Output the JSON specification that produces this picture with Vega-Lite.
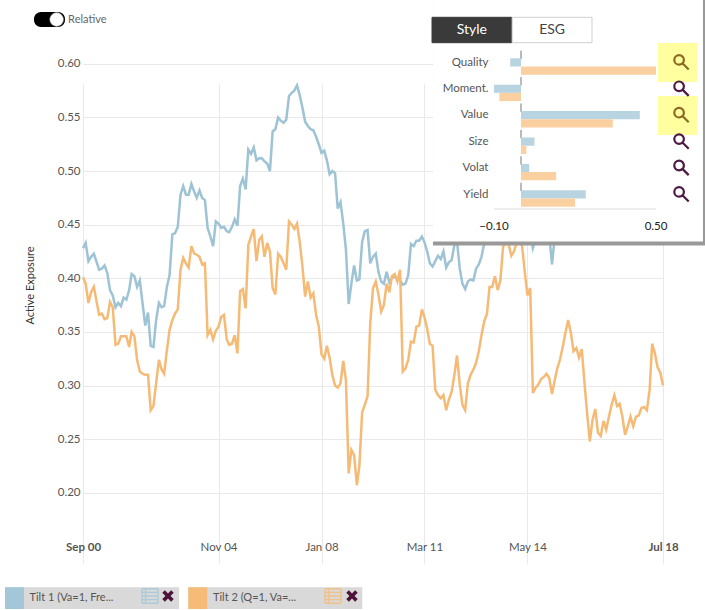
{"$schema":"https://vega.github.io/schema/vega-lite/v6.json","width":705,"height":610,"padding":0,"autosize":{"type":"none"},"background":"#ffffff","config":{"view":{"stroke":null},"font":"Lato","text":{"font":"Lato"}},
"datasets":{
"months":[
{"date":"2000-09-01","Tilt 1":0.428,"Tilt 2":0.401},{"date":"2000-10-01","Tilt 1":0.433,"Tilt 2":0.395},{"date":"2000-11-01","Tilt 1":0.416,"Tilt 2":0.377},{"date":"2000-12-01","Tilt 1":0.42,"Tilt 2":0.387},
{"date":"2001-01-01","Tilt 1":0.423,"Tilt 2":0.392},{"date":"2001-02-01","Tilt 1":0.415,"Tilt 2":0.378},{"date":"2001-03-01","Tilt 1":0.408,"Tilt 2":0.366},{"date":"2001-04-01","Tilt 1":0.409,"Tilt 2":0.367},{"date":"2001-05-01","Tilt 1":0.412,"Tilt 2":0.362},{"date":"2001-06-01","Tilt 1":0.405,"Tilt 2":0.363},{"date":"2001-07-01","Tilt 1":0.389,"Tilt 2":0.378},{"date":"2001-08-01","Tilt 1":0.384,"Tilt 2":0.373},{"date":"2001-09-01","Tilt 1":0.373,"Tilt 2":0.338},{"date":"2001-10-01","Tilt 1":0.377,"Tilt 2":0.339},{"date":"2001-11-01","Tilt 1":0.374,"Tilt 2":0.346},{"date":"2001-12-01","Tilt 1":0.382,"Tilt 2":0.346},
{"date":"2002-01-01","Tilt 1":0.38,"Tilt 2":0.346},{"date":"2002-02-01","Tilt 1":0.389,"Tilt 2":0.336},{"date":"2002-03-01","Tilt 1":0.404,"Tilt 2":0.35},{"date":"2002-04-01","Tilt 1":0.402,"Tilt 2":0.346},{"date":"2002-05-01","Tilt 1":0.392,"Tilt 2":0.324},{"date":"2002-06-01","Tilt 1":0.398,"Tilt 2":0.313},{"date":"2002-07-01","Tilt 1":0.377,"Tilt 2":0.311},{"date":"2002-08-01","Tilt 1":0.356,"Tilt 2":0.31},{"date":"2002-09-01","Tilt 1":0.368,"Tilt 2":0.31},{"date":"2002-10-01","Tilt 1":0.337,"Tilt 2":0.277},{"date":"2002-11-01","Tilt 1":0.336,"Tilt 2":0.281},{"date":"2002-12-01","Tilt 1":0.361,"Tilt 2":0.302},
{"date":"2003-01-01","Tilt 1":0.377,"Tilt 2":0.324},{"date":"2003-02-01","Tilt 1":0.373,"Tilt 2":0.315},{"date":"2003-03-01","Tilt 1":0.374,"Tilt 2":0.311},{"date":"2003-04-01","Tilt 1":0.392,"Tilt 2":0.333},{"date":"2003-05-01","Tilt 1":0.403,"Tilt 2":0.352},{"date":"2003-06-01","Tilt 1":0.441,"Tilt 2":0.361},{"date":"2003-07-01","Tilt 1":0.442,"Tilt 2":0.367},{"date":"2003-08-01","Tilt 1":0.448,"Tilt 2":0.371},{"date":"2003-09-01","Tilt 1":0.478,"Tilt 2":0.408},{"date":"2003-10-01","Tilt 1":0.486,"Tilt 2":0.419},{"date":"2003-11-01","Tilt 1":0.478,"Tilt 2":0.414},{"date":"2003-12-01","Tilt 1":0.478,"Tilt 2":0.41},
{"date":"2004-01-01","Tilt 1":0.488,"Tilt 2":0.43},{"date":"2004-02-01","Tilt 1":0.481,"Tilt 2":0.423},{"date":"2004-03-01","Tilt 1":0.475,"Tilt 2":0.422},{"date":"2004-04-01","Tilt 1":0.482,"Tilt 2":0.42},{"date":"2004-05-01","Tilt 1":0.475,"Tilt 2":0.413},{"date":"2004-06-01","Tilt 1":0.473,"Tilt 2":0.414},{"date":"2004-07-01","Tilt 1":0.447,"Tilt 2":0.347},{"date":"2004-08-01","Tilt 1":0.439,"Tilt 2":0.352},{"date":"2004-09-01","Tilt 1":0.43,"Tilt 2":0.343},{"date":"2004-10-01","Tilt 1":0.453,"Tilt 2":0.351},{"date":"2004-11-01","Tilt 1":0.451,"Tilt 2":0.355},{"date":"2004-12-01","Tilt 1":0.447,"Tilt 2":0.364},
{"date":"2005-01-01","Tilt 1":0.448,"Tilt 2":0.366},{"date":"2005-02-01","Tilt 1":0.444,"Tilt 2":0.343},{"date":"2005-03-01","Tilt 1":0.443,"Tilt 2":0.338},{"date":"2005-04-01","Tilt 1":0.448,"Tilt 2":0.339},{"date":"2005-05-01","Tilt 1":0.455,"Tilt 2":0.347},{"date":"2005-06-01","Tilt 1":0.449,"Tilt 2":0.33},{"date":"2005-07-01","Tilt 1":0.486,"Tilt 2":0.388},{"date":"2005-08-01","Tilt 1":0.493,"Tilt 2":0.39},{"date":"2005-09-01","Tilt 1":0.483,"Tilt 2":0.372},{"date":"2005-10-01","Tilt 1":0.52,"Tilt 2":0.431},{"date":"2005-11-01","Tilt 1":0.516,"Tilt 2":0.439},{"date":"2005-12-01","Tilt 1":0.522,"Tilt 2":0.446},
{"date":"2006-01-01","Tilt 1":0.51,"Tilt 2":0.416},{"date":"2006-02-01","Tilt 1":0.512,"Tilt 2":0.436},{"date":"2006-03-01","Tilt 1":0.512,"Tilt 2":0.439},{"date":"2006-04-01","Tilt 1":0.509,"Tilt 2":0.42},{"date":"2006-05-01","Tilt 1":0.507,"Tilt 2":0.433},{"date":"2006-06-01","Tilt 1":0.5,"Tilt 2":0.425},{"date":"2006-07-01","Tilt 1":0.537,"Tilt 2":0.391},{"date":"2006-08-01","Tilt 1":0.539,"Tilt 2":0.385},{"date":"2006-09-01","Tilt 1":0.55,"Tilt 2":0.423},{"date":"2006-10-01","Tilt 1":0.547,"Tilt 2":0.42},{"date":"2006-11-01","Tilt 1":0.545,"Tilt 2":0.414},{"date":"2006-12-01","Tilt 1":0.548,"Tilt 2":0.408},
{"date":"2007-01-01","Tilt 1":0.57,"Tilt 2":0.453},{"date":"2007-02-01","Tilt 1":0.573,"Tilt 2":0.45},{"date":"2007-03-01","Tilt 1":0.575,"Tilt 2":0.446},{"date":"2007-04-01","Tilt 1":0.58,"Tilt 2":0.451},{"date":"2007-05-01","Tilt 1":0.571,"Tilt 2":0.434},{"date":"2007-06-01","Tilt 1":0.559,"Tilt 2":0.411},{"date":"2007-07-01","Tilt 1":0.546,"Tilt 2":0.383},{"date":"2007-08-01","Tilt 1":0.542,"Tilt 2":0.397},{"date":"2007-09-01","Tilt 1":0.539,"Tilt 2":0.382},{"date":"2007-10-01","Tilt 1":0.538,"Tilt 2":0.386},{"date":"2007-11-01","Tilt 1":0.532,"Tilt 2":0.366},{"date":"2007-12-01","Tilt 1":0.525,"Tilt 2":0.355},
{"date":"2008-01-01","Tilt 1":0.517,"Tilt 2":0.329},{"date":"2008-02-01","Tilt 1":0.519,"Tilt 2":0.325},{"date":"2008-03-01","Tilt 1":0.51,"Tilt 2":0.337},{"date":"2008-04-01","Tilt 1":0.497,"Tilt 2":0.326},{"date":"2008-05-01","Tilt 1":0.5,"Tilt 2":0.31},{"date":"2008-06-01","Tilt 1":0.498,"Tilt 2":0.3},{"date":"2008-07-01","Tilt 1":0.465,"Tilt 2":0.298},{"date":"2008-08-01","Tilt 1":0.471,"Tilt 2":0.302},{"date":"2008-09-01","Tilt 1":0.451,"Tilt 2":0.323},{"date":"2008-10-01","Tilt 1":0.427,"Tilt 2":0.305},{"date":"2008-11-01","Tilt 1":0.376,"Tilt 2":0.218},{"date":"2008-12-01","Tilt 1":0.395,"Tilt 2":0.24},
{"date":"2009-01-01","Tilt 1":0.412,"Tilt 2":0.235},{"date":"2009-02-01","Tilt 1":0.398,"Tilt 2":0.207},{"date":"2009-03-01","Tilt 1":0.399,"Tilt 2":0.225},{"date":"2009-04-01","Tilt 1":0.434,"Tilt 2":0.275},{"date":"2009-05-01","Tilt 1":0.444,"Tilt 2":0.282},{"date":"2009-06-01","Tilt 1":0.445,"Tilt 2":0.29},{"date":"2009-07-01","Tilt 1":0.414,"Tilt 2":0.358},{"date":"2009-08-01","Tilt 1":0.42,"Tilt 2":0.391},{"date":"2009-09-01","Tilt 1":0.423,"Tilt 2":0.397},{"date":"2009-10-01","Tilt 1":0.406,"Tilt 2":0.385},{"date":"2009-11-01","Tilt 1":0.397,"Tilt 2":0.369},{"date":"2009-12-01","Tilt 1":0.395,"Tilt 2":0.375},
{"date":"2010-01-01","Tilt 1":0.406,"Tilt 2":0.395},{"date":"2010-02-01","Tilt 1":0.396,"Tilt 2":0.387},{"date":"2010-03-01","Tilt 1":0.4,"Tilt 2":0.402},{"date":"2010-04-01","Tilt 1":0.402,"Tilt 2":0.404},{"date":"2010-05-01","Tilt 1":0.4,"Tilt 2":0.397},{"date":"2010-06-01","Tilt 1":0.398,"Tilt 2":0.408},{"date":"2010-07-01","Tilt 1":0.394,"Tilt 2":0.313},{"date":"2010-08-01","Tilt 1":0.395,"Tilt 2":0.316},{"date":"2010-09-01","Tilt 1":0.403,"Tilt 2":0.324},{"date":"2010-10-01","Tilt 1":0.432,"Tilt 2":0.341},{"date":"2010-11-01","Tilt 1":0.43,"Tilt 2":0.34},{"date":"2010-12-01","Tilt 1":0.435,"Tilt 2":0.355},
{"date":"2011-01-01","Tilt 1":0.435,"Tilt 2":0.356},{"date":"2011-02-01","Tilt 1":0.439,"Tilt 2":0.371},{"date":"2011-03-01","Tilt 1":0.434,"Tilt 2":0.364},{"date":"2011-04-01","Tilt 1":0.425,"Tilt 2":0.353},{"date":"2011-05-01","Tilt 1":0.414,"Tilt 2":0.339},{"date":"2011-06-01","Tilt 1":0.411,"Tilt 2":0.337},{"date":"2011-07-01","Tilt 1":0.416,"Tilt 2":0.296},{"date":"2011-08-01","Tilt 1":0.421,"Tilt 2":0.291},{"date":"2011-09-01","Tilt 1":0.418,"Tilt 2":0.288},{"date":"2011-10-01","Tilt 1":0.425,"Tilt 2":0.291},{"date":"2011-11-01","Tilt 1":0.41,"Tilt 2":0.277},{"date":"2011-12-01","Tilt 1":0.415,"Tilt 2":0.287},
{"date":"2012-01-01","Tilt 1":0.417,"Tilt 2":0.294},{"date":"2012-02-01","Tilt 1":0.431,"Tilt 2":0.31},{"date":"2012-03-01","Tilt 1":0.435,"Tilt 2":0.328},{"date":"2012-04-01","Tilt 1":0.409,"Tilt 2":0.301},{"date":"2012-05-01","Tilt 1":0.395,"Tilt 2":0.282},{"date":"2012-06-01","Tilt 1":0.39,"Tilt 2":0.277},{"date":"2012-07-01","Tilt 1":0.397,"Tilt 2":0.302},{"date":"2012-08-01","Tilt 1":0.399,"Tilt 2":0.31},{"date":"2012-09-01","Tilt 1":0.398,"Tilt 2":0.315},{"date":"2012-10-01","Tilt 1":0.409,"Tilt 2":0.321},{"date":"2012-11-01","Tilt 1":0.413,"Tilt 2":0.332},{"date":"2012-12-01","Tilt 1":0.42,"Tilt 2":0.347},
{"date":"2013-01-01","Tilt 1":0.433,"Tilt 2":0.36},{"date":"2013-02-01","Tilt 1":0.44,"Tilt 2":0.367},{"date":"2013-03-01","Tilt 1":0.452,"Tilt 2":0.392},{"date":"2013-04-01","Tilt 1":0.46,"Tilt 2":0.392},{"date":"2013-05-01","Tilt 1":0.465,"Tilt 2":0.402},{"date":"2013-06-01","Tilt 1":0.47,"Tilt 2":0.389},{"date":"2013-07-01","Tilt 1":0.468,"Tilt 2":0.398},{"date":"2013-08-01","Tilt 1":0.47,"Tilt 2":0.43},{"date":"2013-09-01","Tilt 1":0.462,"Tilt 2":0.433},{"date":"2013-10-01","Tilt 1":0.458,"Tilt 2":0.432},{"date":"2013-11-01","Tilt 1":0.456,"Tilt 2":0.421},{"date":"2013-12-01","Tilt 1":0.455,"Tilt 2":0.425},
{"date":"2014-01-01","Tilt 1":0.455,"Tilt 2":0.434},{"date":"2014-02-01","Tilt 1":0.452,"Tilt 2":0.432},{"date":"2014-03-01","Tilt 1":0.45,"Tilt 2":0.431},{"date":"2014-04-01","Tilt 1":0.448,"Tilt 2":0.406},{"date":"2014-05-01","Tilt 1":0.445,"Tilt 2":0.384},{"date":"2014-06-01","Tilt 1":0.44,"Tilt 2":0.391},{"date":"2014-07-01","Tilt 1":0.428,"Tilt 2":0.293},{"date":"2014-08-01","Tilt 1":0.436,"Tilt 2":0.298},{"date":"2014-09-01","Tilt 1":0.44,"Tilt 2":0.301},{"date":"2014-10-01","Tilt 1":0.437,"Tilt 2":0.306},{"date":"2014-11-01","Tilt 1":0.438,"Tilt 2":0.308},{"date":"2014-12-01","Tilt 1":0.438,"Tilt 2":0.311},
{"date":"2015-01-01","Tilt 1":0.44,"Tilt 2":0.307},{"date":"2015-02-01","Tilt 1":0.413,"Tilt 2":0.292},{"date":"2015-03-01","Tilt 1":0.437,"Tilt 2":0.304},{"date":"2015-04-01","Tilt 1":0.45,"Tilt 2":0.316},{"date":"2015-05-01","Tilt 1":0.455,"Tilt 2":0.324},{"date":"2015-06-01","Tilt 1":0.46,"Tilt 2":0.336},{"date":"2015-07-01","Tilt 1":0.46,"Tilt 2":0.349},{"date":"2015-08-01","Tilt 1":0.47,"Tilt 2":0.361},{"date":"2015-09-01","Tilt 1":0.47,"Tilt 2":0.349},{"date":"2015-10-01","Tilt 1":0.465,"Tilt 2":0.332},{"date":"2015-11-01","Tilt 1":0.46,"Tilt 2":0.335},{"date":"2015-12-01","Tilt 1":0.46,"Tilt 2":0.326},
{"date":"2016-01-01","Tilt 1":0.45,"Tilt 2":0.334},{"date":"2016-02-01","Tilt 1":0.45,"Tilt 2":0.302},{"date":"2016-03-01","Tilt 1":0.45,"Tilt 2":0.274},{"date":"2016-04-01","Tilt 1":0.44,"Tilt 2":0.248},{"date":"2016-05-01","Tilt 1":0.45,"Tilt 2":0.268},{"date":"2016-06-01","Tilt 1":0.45,"Tilt 2":0.278},{"date":"2016-07-01","Tilt 1":0.44,"Tilt 2":0.256},{"date":"2016-08-01","Tilt 1":0.44,"Tilt 2":0.253},{"date":"2016-09-01","Tilt 1":0.45,"Tilt 2":0.267},{"date":"2016-10-01","Tilt 1":0.45,"Tilt 2":0.259},{"date":"2016-11-01","Tilt 1":0.45,"Tilt 2":0.271},{"date":"2016-12-01","Tilt 1":0.46,"Tilt 2":0.282},
{"date":"2017-01-01","Tilt 1":0.46,"Tilt 2":0.291},{"date":"2017-02-01","Tilt 1":0.46,"Tilt 2":0.281},{"date":"2017-03-01","Tilt 1":0.46,"Tilt 2":0.283},{"date":"2017-04-01","Tilt 1":0.46,"Tilt 2":0.271},{"date":"2017-05-01","Tilt 1":0.45,"Tilt 2":0.254},{"date":"2017-06-01","Tilt 1":0.45,"Tilt 2":0.262},{"date":"2017-07-01","Tilt 1":0.45,"Tilt 2":0.271},{"date":"2017-08-01","Tilt 1":0.45,"Tilt 2":0.262},{"date":"2017-09-01","Tilt 1":0.46,"Tilt 2":0.271},{"date":"2017-10-01","Tilt 1":0.46,"Tilt 2":0.272},{"date":"2017-11-01","Tilt 1":0.46,"Tilt 2":0.279},{"date":"2017-12-01","Tilt 1":0.46,"Tilt 2":0.28},
{"date":"2018-01-01","Tilt 1":0.46,"Tilt 2":0.277},{"date":"2018-02-01","Tilt 1":0.47,"Tilt 2":0.296},{"date":"2018-03-01","Tilt 1":0.48,"Tilt 2":0.339},{"date":"2018-04-01","Tilt 1":0.48,"Tilt 2":0.33},{"date":"2018-05-01","Tilt 1":0.47,"Tilt 2":0.317},{"date":"2018-06-01","Tilt 1":0.47,"Tilt 2":0.312},{"date":"2018-07-01","Tilt 1":0.47,"Tilt 2":0.3}
],
"exposures":[{"factor":"Quality","series":"Tilt 1","value":-0.04},{"factor":"Quality","series":"Tilt 2","value":0.5},{"factor":"Moment.","series":"Tilt 1","value":-0.1},{"factor":"Moment.","series":"Tilt 2","value":-0.08},{"factor":"Value","series":"Tilt 1","value":0.44},{"factor":"Value","series":"Tilt 2","value":0.34},{"factor":"Size","series":"Tilt 1","value":0.05},{"factor":"Size","series":"Tilt 2","value":0.02},{"factor":"Volat","series":"Tilt 1","value":0.03},{"factor":"Volat","series":"Tilt 2","value":0.13},{"factor":"Yield","series":"Tilt 1","value":0.24},{"factor":"Yield","series":"Tilt 2","value":0.2}],
"factors":[{"factor":"Quality"},{"factor":"Moment."},{"factor":"Value"},{"factor":"Size"},{"factor":"Volat"},{"factor":"Yield"}],
"highlighted":[{"factor":"Quality"},{"factor":"Value"}],
"panelTicks":[{"tick":-0.1,"factor":"axis"},{"tick":0.5,"factor":"axis"}],
"tabs":[{"tab":"Style"},{"tab":"ESG"}],
"legend":[{"series":"Tilt 1","label":"Tilt 1 (Va=1, Fre..."},{"series":"Tilt 2","label":"Tilt 2 (Q=1, Va=..."}],
"one":[{"label":"Relative"}]
},
"resolve":{"scale":{"x":"independent","y":"independent","color":"independent","yOffset":"independent"},"axis":{"x":"independent","y":"independent"}},
"layer":[
{"data":{"name":"months"},"transform":[{"fold":["Tilt 1","Tilt 2"],"as":["series","value"]}],
"mark":{"type":"line","strokeWidth":2.5,"interpolate":"linear"},
"encoding":{
"x":{"field":"date","type":"temporal","scale":{"type":"utc","domain":["2000-09-01","2018-07-01"],"range":[83,663]},"axis":{"title":null,"orient":"bottom","offset":-84,"domain":false,"ticks":false,"grid":true,"gridColor":"#e9e9e9","gridWidth":1,"values":["2000-09-01","2004-11-01","2008-01-01","2011-03-01","2014-05-01","2018-07-01"],"labelExpr":"utcFormat(datum.value,'%b %y')","labelPadding":15,"labelFont":"Lato","labelFontSize":11.5,"labelColor":"#555555","labelFontWeight":{"condition":{"test":"datum.index===0||datum.index===1","value":"bold"},"value":"normal"},"labelOverlap":false,"labelFlush":false}},
"y":{"field":"value","type":"quantitative","scale":{"domain":[0.169,0.616],"range":[526,46.7],"nice":false,"zero":false},"axis":{"title":"Active Exposure","orient":"left","offset":-83,"domain":false,"ticks":false,"grid":true,"gridColor":"#e9e9e9","gridWidth":1,"values":[0.2,0.25,0.3,0.35,0.4,0.45,0.5,0.55,0.6],"format":".2f","labelPadding":3,"labelFont":"Lato","labelFontSize":11.5,"labelColor":"#555555","titleFont":"Lato","titleFontSize":11,"titleFontWeight":"normal","titleColor":"#333333","titleX":-48,"titleY":285,"titleAngle":270,"titleAlign":"center"}},
"color":{"field":"series","type":"nominal","scale":{"domain":["Tilt 1","Tilt 2"],"range":["#9dc3d4","#f5bb76"]},"legend":null}}},
{"data":{"name":"one"},"mark":{"type":"rect","fill":"#999999"},"encoding":{"x":{"datum":-0.326,"type":"quantitative","scale":{"domain":[-0.1,0.5],"range":[494,656],"nice":false,"zero":false},"axis":null},"x2":{"datum":0.6815},"y":{"datum":0,"type":"quantitative","scale":{"domain":[0,1],"range":[0,245.5],"nice":false,"zero":false},"axis":null},"y2":{"datum":1}}},
{"data":{"name":"one"},"mark":{"type":"rect","fill":"#ffffff"},"encoding":{"x":{"datum":-0.326,"type":"quantitative","scale":{"domain":[-0.1,0.5],"range":[494,656],"nice":false,"zero":false},"axis":null},"x2":{"datum":0.674},"y":{"datum":0,"type":"quantitative","scale":{"domain":[0,1],"range":[0,241.5],"nice":false,"zero":false},"axis":null},"y2":{"datum":1}}},
{"data":{"name":"tabs"},"mark":{"type":"rect","strokeWidth":1},"encoding":{"x":{"field":"tab","type":"nominal","sort":null,"scale":{"type":"band","domain":["Style","ESG"],"range":[432,592],"paddingInner":0.005,"paddingOuter":0},"axis":null},"y":{"datum":0,"type":"quantitative","scale":{"domain":[0,1],"range":[17.3,42.7],"nice":false,"zero":false},"axis":null},"y2":{"datum":1},"fill":{"condition":{"test":"datum.tab==='Style'","value":"#3a3a3a"},"value":"#ffffff"},"stroke":{"condition":{"test":"datum.tab==='Style'","value":"#3a3a3a"},"value":"#cfcfcf"}}},
{"data":{"name":"tabs"},"mark":{"type":"text","fontSize":14,"font":"Lato"},"encoding":{"x":{"field":"tab","type":"nominal","sort":null,"scale":{"type":"band","domain":["Style","ESG"],"range":[432,592],"paddingInner":0.005,"paddingOuter":0},"axis":null},"y":{"datum":0.5,"type":"quantitative","scale":{"domain":[0,1],"range":[17.3,42.7],"nice":false,"zero":false},"axis":null},"text":{"field":"tab"},"color":{"condition":{"test":"datum.tab==='Style'","value":"#ffffff"},"value":"#444444"}}},
{"data":{"name":"highlighted"},"mark":{"type":"rect","fill":"#ffff9f"},"encoding":{"x":{"datum":0.5074,"type":"quantitative","scale":{"domain":[-0.1,0.5],"range":[494,656],"nice":false,"zero":false},"axis":null},"x2":{"datum":0.6519},"y":{"field":"factor","type":"nominal","sort":null,"scale":{"type":"band","domain":["Quality","Value"],"range":[43,135],"paddingInner":0.264,"paddingOuter":0},"axis":null}}},
{"data":{"name":"one"},"mark":{"type":"rule","stroke":"#777777","strokeWidth":1,"strokeDash":[8.4,18]},"encoding":{"x":{"datum":0,"type":"quantitative","scale":{"domain":[-0.1,0.5],"range":[494,656],"nice":false,"zero":false},"axis":null},"y":{"datum":0,"type":"quantitative","scale":{"domain":[0,1],"range":[50.7,209],"nice":false,"zero":false},"axis":null},"y2":{"datum":1}}},
{"data":{"name":"one"},"mark":{"type":"rule","stroke":"#dddddd","strokeWidth":1},"encoding":{"x":{"datum":-0.1,"type":"quantitative","scale":{"domain":[-0.1,0.5],"range":[494,656],"nice":false,"zero":false},"axis":null},"x2":{"datum":0.5},"y":{"datum":1,"type":"quantitative","scale":{"domain":[0,1],"range":[50.7,209],"nice":false,"zero":false},"axis":null}}},
{"data":{"name":"exposures"},"mark":{"type":"bar"},"encoding":{"x":{"field":"value","type":"quantitative","scale":{"domain":[-0.1,0.5],"range":[494,656],"nice":false,"zero":false},"axis":null},"y":{"field":"factor","type":"nominal","sort":null,"scale":{"type":"band","domain":["Quality","Moment.","Value","Size","Volat","Yield","axis"],"range":[53.3,238.1],"paddingInner":0.38,"paddingOuter":0.19},"axis":null},"yOffset":{"field":"series","type":"nominal","scale":{"domain":["Tilt 1","Tilt 2"]}},"color":{"field":"series","type":"nominal","scale":{"domain":["Tilt 1","Tilt 2"],"range":["#b9d4e1","#fbd0a0"]},"legend":null}}},
{"data":{"name":"factors"},"mark":{"type":"text","align":"right","dy":-4,"fontSize":11.5,"font":"Lato","color":"#555555"},"encoding":{"x":{"datum":-0.1204,"type":"quantitative","scale":{"domain":[-0.1,0.5],"range":[494,656],"nice":false,"zero":false},"axis":null},"y":{"field":"factor","type":"nominal","sort":null,"scale":{"type":"band","domain":["Quality","Moment.","Value","Size","Volat","Yield","axis"],"range":[53.3,238.1],"paddingInner":0.38,"paddingOuter":0.19},"axis":null},"text":{"field":"factor"}}},
{"data":{"name":"panelTicks"},"mark":{"type":"text","dy":2,"fontSize":11.5,"font":"Lato","color":"#222222"},"encoding":{"x":{"field":"tick","type":"quantitative","scale":{"domain":[-0.1,0.5],"range":[494,656],"nice":false,"zero":false},"axis":null},"y":{"field":"factor","type":"nominal","sort":null,"scale":{"type":"band","domain":["Quality","Moment.","Value","Size","Volat","Yield","axis"],"range":[53.3,238.1],"paddingInner":0.38,"paddingOuter":0.19},"axis":null},"text":{"field":"tick","type":"quantitative","format":".2f"}}},
{"data":{"name":"factors"},"mark":{"type":"point","filled":false,"strokeWidth":2.2,"opacity":1,"size":256,"yOffset":-5,"shape":"M-0.8,-0.2A0.6,0.6 0 1 1 0.4,-0.2A0.6,0.6 0 1 1 -0.8,-0.2M0.25,0.25L1,1"},"encoding":{"x":{"datum":0.5915,"type":"quantitative","scale":{"domain":[-0.1,0.5],"range":[494,656],"nice":false,"zero":false},"axis":null},"y":{"field":"factor","type":"nominal","sort":null,"scale":{"type":"band","domain":["Quality","Moment.","Value","Size","Volat","Yield","axis"],"range":[53.3,238.1],"paddingInner":0.38,"paddingOuter":0.19},"axis":null},"stroke":{"condition":{"test":"datum.factor==='Quality'||datum.factor==='Value'","value":"#8a6a25"},"value":"#4d1a45"}}},
{"data":{"name":"one"},"mark":{"type":"rect","fill":"#000000","cornerRadius":7},"encoding":{"x":{"datum":0,"type":"quantitative","scale":{"domain":[0,1],"range":[34,65],"nice":false,"zero":false},"axis":null},"x2":{"datum":1},"y":{"datum":0,"type":"quantitative","scale":{"domain":[0,1],"range":[12,27],"nice":false,"zero":false},"axis":null},"y2":{"datum":1}}},
{"data":{"name":"one"},"mark":{"type":"point","filled":true,"fill":"#ffffff","stroke":"#888888","strokeWidth":0.5,"opacity":1,"shape":"circle","size":190},"encoding":{"x":{"datum":0.73,"type":"quantitative","scale":{"domain":[0,1],"range":[34,65],"nice":false,"zero":false},"axis":null},"y":{"datum":0.5,"type":"quantitative","scale":{"domain":[0,1],"range":[12,27],"nice":false,"zero":false},"axis":null}}},
{"data":{"name":"one"},"mark":{"type":"text","align":"left","fontSize":11,"font":"Lato","color":"#666666"},"encoding":{"x":{"datum":1.1,"type":"quantitative","scale":{"domain":[0,1],"range":[34,65],"nice":false,"zero":false},"axis":null},"y":{"datum":0.55,"type":"quantitative","scale":{"domain":[0,1],"range":[12,27],"nice":false,"zero":false},"axis":null},"text":{"field":"label"}}},
{"data":{"name":"legend"},"mark":{"type":"rect","fill":"#d9d9d9"},"encoding":{"x":{"field":"series","type":"nominal","scale":{"type":"band","domain":["Tilt 1","Tilt 2"],"range":[5,362.3],"paddingInner":0.05,"paddingOuter":0},"axis":null},"y":{"datum":0,"type":"quantitative","scale":{"domain":[0,1],"range":[587.3,609],"nice":false,"zero":false},"axis":null},"y2":{"datum":1}}},
{"data":{"name":"legend"},"mark":{"type":"rect"},"encoding":{"x":{"field":"series","type":"nominal","scale":{"type":"band","domain":["Tilt 1","Tilt 2"],"range":[5,207.3],"paddingInner":0.896,"paddingOuter":0},"axis":null},"y":{"datum":0,"type":"quantitative","scale":{"domain":[0,1],"range":[587.3,609],"nice":false,"zero":false},"axis":null},"y2":{"datum":1},"color":{"field":"series","type":"nominal","scale":{"domain":["Tilt 1","Tilt 2"],"range":["#a3c7d8","#f6bc77"]},"legend":null}}},
{"data":{"name":"legend"},"mark":{"type":"text","align":"left","fontSize":11,"font":"Lato","color":"#555555"},"encoding":{"x":{"field":"series","type":"nominal","scale":{"type":"point","domain":["Tilt 1","Tilt 2"],"range":[29.5,213],"padding":0},"axis":null},"y":{"datum":0.5,"type":"quantitative","scale":{"domain":[0,1],"range":[587.3,609],"nice":false,"zero":false},"axis":null},"text":{"field":"label"}}},
{"data":{"name":"legend"},"mark":{"type":"point","filled":false,"strokeWidth":1.4,"opacity":0.8,"size":256,"shape":"M-1,-0.9H1M-1,-0.45H1M-1,0H1M-1,0.45H1M-1,0.9H1M-0.55,-0.9V0.9M-1,-0.9V0.9M1,-0.9V0.9"},"encoding":{"x":{"field":"series","type":"nominal","scale":{"type":"point","domain":["Tilt 1","Tilt 2"],"range":[150,333],"padding":0},"axis":null},"y":{"datum":0.4,"type":"quantitative","scale":{"domain":[0,1],"range":[587.3,609],"nice":false,"zero":false},"axis":null},"color":{"field":"series","type":"nominal","scale":{"domain":["Tilt 1","Tilt 2"],"range":["#a3c7d8","#f6bc77"]},"legend":null}}},
{"data":{"name":"legend"},"mark":{"type":"point","filled":true,"fill":"#4d1238","opacity":1,"size":130,"shape":"M-1,-0.55L-0.55,-1L0,-0.45L0.55,-1L1,-0.55L0.45,0L1,0.55L0.55,1L0,0.45L-0.55,1L-1,0.55L-0.45,0Z"},"encoding":{"x":{"field":"series","type":"nominal","scale":{"type":"point","domain":["Tilt 1","Tilt 2"],"range":[168,352],"padding":0},"axis":null},"y":{"datum":0.4,"type":"quantitative","scale":{"domain":[0,1],"range":[587.3,609],"nice":false,"zero":false},"axis":null}}}
]}
